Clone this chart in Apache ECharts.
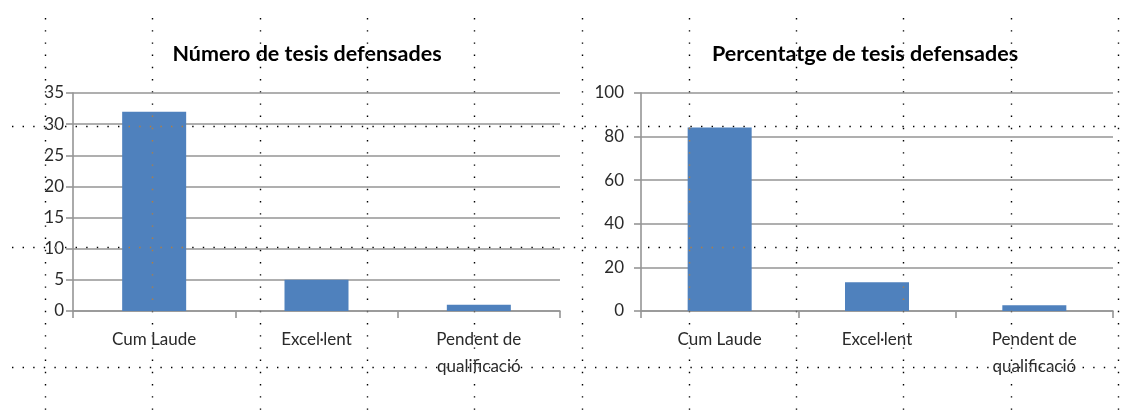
<!DOCTYPE html>
<html>
<head>
<meta charset="utf-8">
<script src="https://cdn.jsdelivr.net/npm/echarts@6/dist/echarts.min.js"></script>
<style>
  html, body { margin: 0; padding: 0; background: #fff; }
  #chart { width: 1123px; height: 412px; }
</style>
</head>
<body>
<div id="chart"></div>
<script>
// data
const categories = ["Cum Laude", "Excel·lent", "Pendent de\nqualificació"];
const thesisCounts = [32, 5, 1];
const thesisPercents = [84.2, 13.2, 2.6];
const titles = ["Número de tesis defensades", "Percentatge de tesis defensades"];

const FONT = "Lato, 'Open Sans', sans-serif";
const GRID_COLOR = "#959595";
const BAR_COLOR = "#4f81bd";

// excel page-break guides (decoration only)
function guideLines() {
  const els = [];
  for (let i = 0; i <= 10; i++) {
    const x = Math.round(45 + i * 107.3) + 0.5;
    els.push({
      type: "line",
      z: 100,
      silent: true,
      shape: { x1: x, y1: 18, x2: x, y2: 412 },
      style: { stroke: "#fff", lineWidth: 1.4, lineDash: [1.4, 10.8], blend: "difference" },
    });
  }
  [126.5, 247.5, 367.5].forEach(function (y) {
    els.push({
      type: "line",
      z: 100,
      silent: true,
      shape: { x1: 12, y1: y, x2: 1121, y2: y },
      style: { stroke: "#fff", lineWidth: 1.4, lineDash: [1.4, 9.2], blend: "difference" },
    });
  });
  return els;
}

function xAxis(gridIndex) {
  return {
    type: "category",
    gridIndex: gridIndex,
    data: categories,
    axisLine: { lineStyle: { color: GRID_COLOR, width: 1.6 } },
    axisTick: { show: true, length: 7, lineStyle: { color: GRID_COLOR, width: 1.6 } },
    axisLabel: {
      interval: 0,
      margin: 15,
      fontFamily: FONT,
      fontSize: 17,
      lineHeight: 27,
      color: "#2a2a2a",
    },
  };
}

function yAxis(gridIndex, max, interval, margin) {
  return {
    type: "value",
    gridIndex: gridIndex,
    min: 0,
    max: max,
    interval: interval,
    axisLine: { show: true, lineStyle: { color: GRID_COLOR, width: 1.6 } },
    axisTick: { show: true, length: 7, lineStyle: { color: GRID_COLOR, width: 1.6 } },
    splitLine: { show: true, lineStyle: { color: GRID_COLOR, width: 1.6 } },
    axisLabel: { margin: margin, fontFamily: FONT, fontSize: 17, color: "#2a2a2a" },
  };
}

const chart = echarts.init(document.getElementById("chart"));
chart.setOption({
  backgroundColor: "#fff",
  animation: false,
  title: [
    {
      text: titles[0],
      left: 302,
      top: 38,
      textAlign: "center",
      textStyle: { fontFamily: FONT, fontWeight: "bold", fontSize: 21.5, color: "#000" },
    },
    {
      text: titles[1],
      left: 860,
      top: 38,
      textAlign: "center",
      textStyle: { fontFamily: FONT, fontWeight: "bold", fontSize: 21.5, color: "#000" },
    },
  ],
  grid: [
    { left: 73, right: 563, top: 93, bottom: 101 },
    { left: 641, right: 10, top: 93, bottom: 101 },
  ],
  xAxis: [xAxis(0), xAxis(1)],
  yAxis: [yAxis(0, 35, 5, 9), yAxis(1, 100, 20, 17)],
  series: [
    {
      type: "bar",
      xAxisIndex: 0,
      yAxisIndex: 0,
      data: thesisCounts,
      barWidth: 64,
      itemStyle: { color: BAR_COLOR },
    },
    {
      type: "bar",
      xAxisIndex: 1,
      yAxisIndex: 1,
      data: thesisPercents,
      barWidth: 64,
      itemStyle: { color: BAR_COLOR },
    },
  ],
  graphic: guideLines(),
});
</script>
</body>
</html>
